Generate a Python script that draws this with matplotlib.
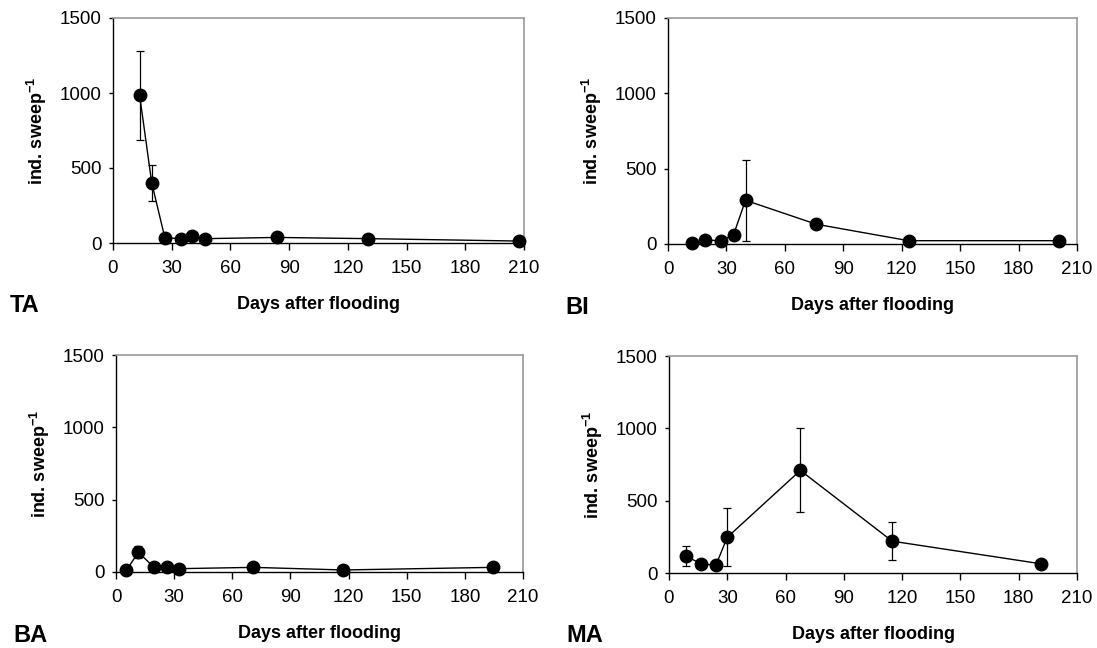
import numpy as np
import matplotlib
matplotlib.use("Agg")
import matplotlib.pyplot as plt

plt.rcParams['font.family'] = ['Liberation Sans', 'DejaVu Sans']
plt.rcParams['mathtext.fontset'] = 'custom'
plt.rcParams['mathtext.rm'] = 'Liberation Sans'
plt.rcParams['mathtext.bf'] = 'Liberation Sans:bold'

# site data: days after flooding, mean ind. per sweep, error
ta_days = [13.6, 19.8, 26.5, 34.7, 40.6, 47, 83.6, 130.5, 207.3]
ta_vals = [985, 400, 35, 29, 50, 29, 37, 29, 13]
ta_err = [295, 118, 0, 0, 0, 0, 0, 0, 0]

bi_days = [12.4, 19.1, 27.4, 33.7, 39.8, 76.2, 123.5, 200.6]
bi_vals = [4, 28, 20, 63, 290, 131, 22, 22]
bi_err = [0, 0, 0, 0, 270, 28, 0, 0]

ba_days = [5.4, 11.5, 19.6, 26.5, 32.4, 70.9, 117.3, 194.3]
ba_vals = [11, 137, 32, 37, 23, 32, 14, 32]
ba_err = [0, 40, 0, 0, 0, 0, 0, 0]

ma_days = [8.6, 16.5, 24.1, 30, 67.6, 114.9, 191.3]
ma_vals = [117, 64, 53, 247, 709, 220, 64]
ma_err = [70, 0, 0, 200, 290, 130, 0]

panels = [
    ("TA", ta_days, ta_vals, ta_err, [113, 18, 524, 243]),
    ("BI", bi_days, bi_vals, bi_err, [668, 18, 1077, 244]),
    ("BA", ba_days, ba_vals, ba_err, [116, 355, 523, 572]),
    ("MA", ma_days, ma_vals, ma_err, [669, 356, 1077, 573]),
]

W, H = 1097, 648
fig = plt.figure(figsize=(W / 100, H / 100), dpi=100)

for name, x, y, e, (l, t, r, b) in panels:
    ax = fig.add_axes([l / W, 1 - b / H, (r - l) / W, (b - t) / H])
    errs = np.array(e)
    ax.errorbar(x, y, yerr=np.where(errs > 0, errs, np.nan), fmt='none',
                ecolor='black', elinewidth=0.9, capsize=3, capthick=0.9, zorder=2)
    ax.plot(x, y, '-', color='black', lw=1, marker='o', markersize=9,
            markerfacecolor='black', clip_on=False, zorder=3)
    ax.set_xlim(0, 210)
    ax.set_ylim(0, 1500)
    ax.set_xticks(np.arange(0, 211, 30))
    ax.set_yticks([0, 500, 1000, 1500])
    ax.tick_params(axis='x', direction='out', length=5, width=1, labelsize=13.5, pad=7)
    ax.tick_params(axis='y', direction='out', length=3, width=1, labelsize=13.5, pad=5)
    for s in ['top', 'right']:
        ax.spines[s].set_color('#9a9a9a')
        ax.spines[s].set_linewidth(1.2)
    for s in ['left', 'bottom']:
        ax.spines[s].set_color('black')
        ax.spines[s].set_linewidth(1)
    ax.set_ylabel(r'ind. sweep$^{\mathbf{-1}}$', fontsize=13, fontweight='bold', labelpad=8)
    ax.set_xlabel('Days after flooding', fontsize=13, fontweight='bold', labelpad=14)
    fig.text((l - 103) / W, 1 - (b + 63) / H, name, fontsize=17, fontweight='bold',
             ha='left', va='center')

fig.savefig('out.png', dpi=100)
